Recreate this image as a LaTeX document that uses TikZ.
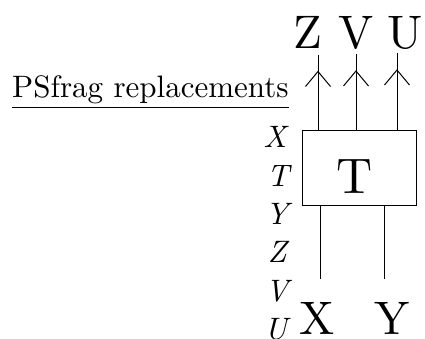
\documentclass[tikz,border=0pt]{standalone}
\usepackage{fontspec}
\setmainfont{lmroman10-regular.otf}[ItalicFont=lmroman10-italic.otf]
\usetikzlibrary{decorations.markings}
\tikzset{
  big/.style={inner sep=0pt, anchor=base, font=\fontsize{47}{47}\selectfont},
  psl/.style={inner sep=0pt, anchor=base, font=\fontsize{31}{31}\selectfont\itshape},
  wire/.style={line width=1pt},
  upwire/.style={wire, postaction={decorate}, decoration={markings,
     mark=at position -17pt with {\draw[line width=1pt] (-15pt,-12.5pt) -- (0pt,0pt) -- (-15pt,12.5pt);}}},
}
\begin{document}
\begin{tikzpicture}[x=1pt,y=-1pt]
\useasboundingbox (0,0) rectangle (425,338);
% heading
\node[inner sep=0pt, anchor=base west, font=\fontsize{31}{31}\selectfont] (ps) at (12,97) {PSfrag replacements};
\draw[line width=0.9pt] ([yshift=-10pt]ps.base west) -- ([yshift=-10pt]ps.base east);
% left list
\node[psl] (lx) at (275,147.7) {X};
\node[psl] (lt) at (278,186) {T};
\node[psl] (ly) at (277,224.4) {Y};
\node[psl] (lz) at (277,262.8) {Z};
\node[psl] (lv) at (277,301.2) {V};
\node[psl] (lu) at (276,339.6) {U};
% box
\node[draw, line width=1pt, minimum width=114pt, minimum height=75pt, inner sep=0pt] (box) at (359,167.5) {};
\node[inner sep=0pt, anchor=base, font=\fontsize{50}{50}\selectfont] (tt) at (355,193) {T};
% top labels
\node[big] (zl) at (307.5,48) {Z};
\node[big] (vl) at (356,48) {V};
\node[big] (ul) at (405,48) {U};
\coordinate (zt) at (318,54.5);
\coordinate (vt) at (356,54);
\coordinate (ut) at (397,53);
\draw[upwire] (zt |- box.north) -- (zt);
\draw[upwire] (vt |- box.north) -- (vt);
\draw[upwire] (ut |- box.north) -- (ut);
% bottom labels
\node[big] (xl) at (317,334) {X};
\node[big] (yl) at (392,334) {Y};
\coordinate (xb) at (320,279);
\coordinate (yb) at (384,279);
\draw[wire] (xb |- box.south) -- (xb);
\draw[wire] (yb |- box.south) -- (yb);
\end{tikzpicture}
\end{document}
